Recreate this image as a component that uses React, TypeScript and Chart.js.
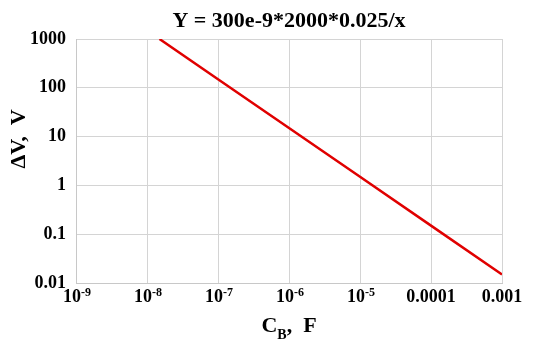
import React, { useEffect, useRef } from "react";
import { Chart, registerables } from "chart.js";

Chart.register(...registerables);

const titleText = "Y = 300e-9*2000*0.025/x";
const xValues = [1.5e-8, 1e-7, 1e-6, 1e-5, 1e-4, 1e-3];
const yValues = [1000, 150, 15, 1.5, 0.15, 0.015];
const xTicks = [1e-9, 1e-8, 1e-7, 1e-6, 1e-5, 1e-4, 1e-3];
const xTickLabels = ["10^-9", "10^-8", "10^-7", "10^-6", "10^-5", "0.0001", "0.001"];
const yTicks = [0.01, 0.1, 1, 10, 100, 1000];
const yTickLabels = ["0.01", "0.1", "1", "10", "100", "1000"];

const FONT = '"Liberation Serif", "Times New Roman", serif';

export default function App() {
  const ref = useRef<HTMLCanvasElement | null>(null);

  useEffect(() => {
    document.body.style.margin = "0";
    const canvas = ref.current!;
    const customText = {
      id: "customText",
      afterDraw(chart: any) {
        const ctx = chart.ctx as CanvasRenderingContext2D;
        const area = chart.chartArea;
        const xs = chart.scales.x;
        ctx.save();
        ctx.fillStyle = "#000";
        // title
        ctx.font = `bold 22px ${FONT}`;
        ctx.textAlign = "center";
        ctx.textBaseline = "alphabetic";
        ctx.fillText(titleText, (area.left + area.right) / 2, 27);
        // x tick labels
        ctx.textAlign = "left";
        xTicks.forEach((v, i) => {
          const px = xs.getPixelForValue(v);
          const lab = xTickLabels[i];
          if (lab.startsWith("10^")) {
            const sup = lab.slice(3);
            ctx.font = `bold 18px ${FONT}`;
            const wb = ctx.measureText("10").width;
            ctx.font = `bold 12px ${FONT}`;
            const ws = ctx.measureText(sup).width;
            const start = px - (wb + ws) / 2 + 1;
            ctx.font = `bold 18px ${FONT}`;
            ctx.fillText("10", start, 302);
            ctx.font = `bold 12px ${FONT}`;
            ctx.fillText(sup, start + wb, 296);
          } else {
            ctx.font = `bold 18px ${FONT}`;
            const w = ctx.measureText(lab).width;
            ctx.fillText(lab, px - w / 2, 302);
          }
        });
        // x axis title: C_B,  F
        ctx.font = `bold 22px ${FONT}`;
        const wC = ctx.measureText("C").width;
        const wRest = ctx.measureText(",  F").width;
        ctx.font = `bold 14px ${FONT}`;
        const wB = ctx.measureText("B").width;
        const total = wC + wB + wRest;
        let sx = (area.left + area.right) / 2 - total / 2;
        ctx.font = `bold 22px ${FONT}`;
        ctx.fillText("C", sx, 332);
        sx += wC;
        ctx.font = `bold 14px ${FONT}`;
        ctx.fillText("B", sx, 339);
        sx += wB;
        ctx.font = `bold 22px ${FONT}`;
        ctx.fillText(",  F", sx, 332);
        // y axis title
        ctx.translate(25, 139);
        ctx.rotate(-Math.PI / 2);
        ctx.textAlign = "center";
        ctx.font = `bold 22px ${FONT}`;
        ctx.fillText("\u0394V,  V", 0, 0);
        ctx.restore();
      },
    };

    const chart = new Chart(canvas, {
      type: "line",
      data: {
        datasets: [
          {
            data: xValues.map((x, i) => ({ x, y: yValues[i] })),
            borderColor: "#e00000",
            borderWidth: 2.5,
            pointRadius: 0,
            tension: 0,
            fill: false,
          },
        ],
      },
      options: {
        animation: false,
        responsive: false,
        maintainAspectRatio: false,
        layout: { padding: { top: 39, right: 33, left: 0, bottom: 0 } },
        plugins: {
          legend: { display: false },
          title: { display: false },
          tooltip: { enabled: false },
        },
        scales: {
          x: {
            type: "logarithmic",
            min: 1e-9,
            max: 1e-3,
            afterBuildTicks: (s: any) => {
              s.ticks = xTicks.map((v) => ({ value: v }));
            },
            afterFit: (s: any) => {
              s.height = 57;
            },
            ticks: {
              autoSkip: false,
              maxRotation: 0,
              color: "rgba(0,0,0,0)",
              callback: () => "",
            },
            grid: { color: "#d4d4d4", drawTicks: false, lineWidth: 1 },
            border: { color: "#c8c8c8" },
          },
          y: {
            type: "logarithmic",
            min: 0.01,
            max: 1000,
            afterBuildTicks: (s: any) => {
              s.ticks = yTicks.map((v) => ({ value: v }));
            },
            afterFit: (s: any) => {
              s.width = 76;
            },
            ticks: {
              autoSkip: false,
              padding: 10,
              color: "#000",
              font: { family: FONT, size: 18, weight: "bold" },
              callback: (v: any) => {
                const i = yTicks.findIndex((t) => Math.abs(Math.log10(t) - Math.log10(v)) < 1e-6);
                return i >= 0 ? yTickLabels[i] : "";
              },
            },
            grid: { color: "#d4d4d4", drawTicks: false, lineWidth: 1 },
            border: { color: "#c8c8c8" },
          },
        },
      },
      plugins: [customText],
    } as any);
    return () => chart.destroy();
  }, []);

  return (
    <div style={{ position: "absolute", left: 0, top: 0, width: 535, height: 340, background: "#fff" }}>
      <canvas ref={ref} width={535} height={340} style={{ width: 535, height: 340, display: "block" }} />
    </div>
  );
}
